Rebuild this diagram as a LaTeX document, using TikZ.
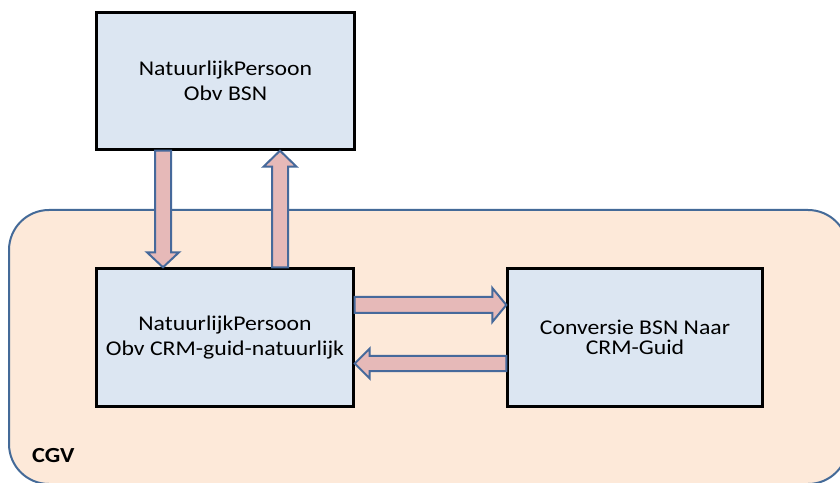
\documentclass[tikz,border=0pt]{standalone}
\usepackage{fontspec}
\setmainfont{Carlito}[FakeStretch=1.13]
\usetikzlibrary{calc}
\definecolor{boxfill}{RGB}{220,230,242}
\definecolor{cgvfill}{RGB}{253,233,217}
\definecolor{cgvline}{RGB}{68,106,152}
\definecolor{arrfill}{RGB}{230,185,184}
\definecolor{arrline}{RGB}{70,105,155}
\begin{document}
\begin{tikzpicture}[x=1pt,y=1pt,
  box/.style={draw=black,line width=2.4pt,fill=boxfill,inner sep=0pt,align=center,font=\fontsize{21}{25}\selectfont},
  barrow/.style={draw=arrline,fill=arrfill,line width=2pt,line join=miter}]
\useasboundingbox (0,0) rectangle (840,482);
\begin{scope}
\clip (0,0) rectangle (840,482);
\fill[white] (0,0) rectangle (840,482);
\draw[fill=cgvfill,draw=cgvline,line width=2pt,rounded corners=40pt] (9,-2) rectangle (848,272);
\end{scope}
\node[anchor=south west,inner sep=0pt,font=\fontsize{21.5}{24}\selectfont\bfseries] (cgv) at (32,19) {CGV};
\node[box,minimum width=258pt,minimum height=137pt] (top) at (225.5,401) {NatuurlijkPersoon\\Obv BSN};
\node[box,minimum width=257pt,minimum height=138pt] (mid) at (225,144.5) {NatuurlijkPersoon\\Obv CRM-guid-natuurlijk};
\node[box,minimum width=255pt,minimum height=138pt,font=\fontsize{21}{20}\selectfont] (conv) at (635,144.5) {Conversie BSN Naar\\CRM-Guid};
% down arrow
\draw[barrow] let \p1=($(top.south)+(-62.5,0)$), \p2=($(mid.north)+(-62,0)$) in
  (\x1-8pt,\y1) -- (\x1-8pt,\y2+15pt) -- (\x1-16pt,\y2+15pt) -- (\x1,\y2)
  -- (\x1+16pt,\y2+15pt) -- (\x1+8pt,\y2+15pt) -- (\x1+8pt,\y1) -- cycle;
% up arrow
\draw[barrow] let \p1=($(mid.north)+(55,0)$), \p2=($(top.south)+(54.5,0)$) in
  (\x1-8pt,\y1) -- (\x1-8pt,\y2-16pt) -- (\x1-16.5pt,\y2-16pt) -- (\x1,\y2)
  -- (\x1+16.5pt,\y2-16pt) -- (\x1+8pt,\y2-16pt) -- (\x1+8pt,\y1) -- cycle;
% right arrow
\draw[barrow] let \p1=($(mid.east)+(0,32.5)$), \p2=($(conv.west)+(0,33.5)$) in
  (\x1,\y1-8pt) -- (\x2-14pt,\y1-8pt) -- (\x2-14pt,\y1-17pt) -- (\x2,\y1)
  -- (\x2-14pt,\y1+17pt) -- (\x2-14pt,\y1+8pt) -- (\x1,\y1+8pt) -- cycle;
% left arrow
\draw[barrow] let \p1=($(conv.west)+(0,-26)$), \p2=($(mid.east)+(0,-27)$) in
  (\x1,\y1-7.5pt) -- (\x2+15pt,\y1-7.5pt) -- (\x2+15pt,\y1-15pt) -- (\x2,\y1)
  -- (\x2+15pt,\y1+15pt) -- (\x2+15pt,\y1+7.5pt) -- (\x1,\y1+7.5pt) -- cycle;
\end{tikzpicture}
\end{document}
